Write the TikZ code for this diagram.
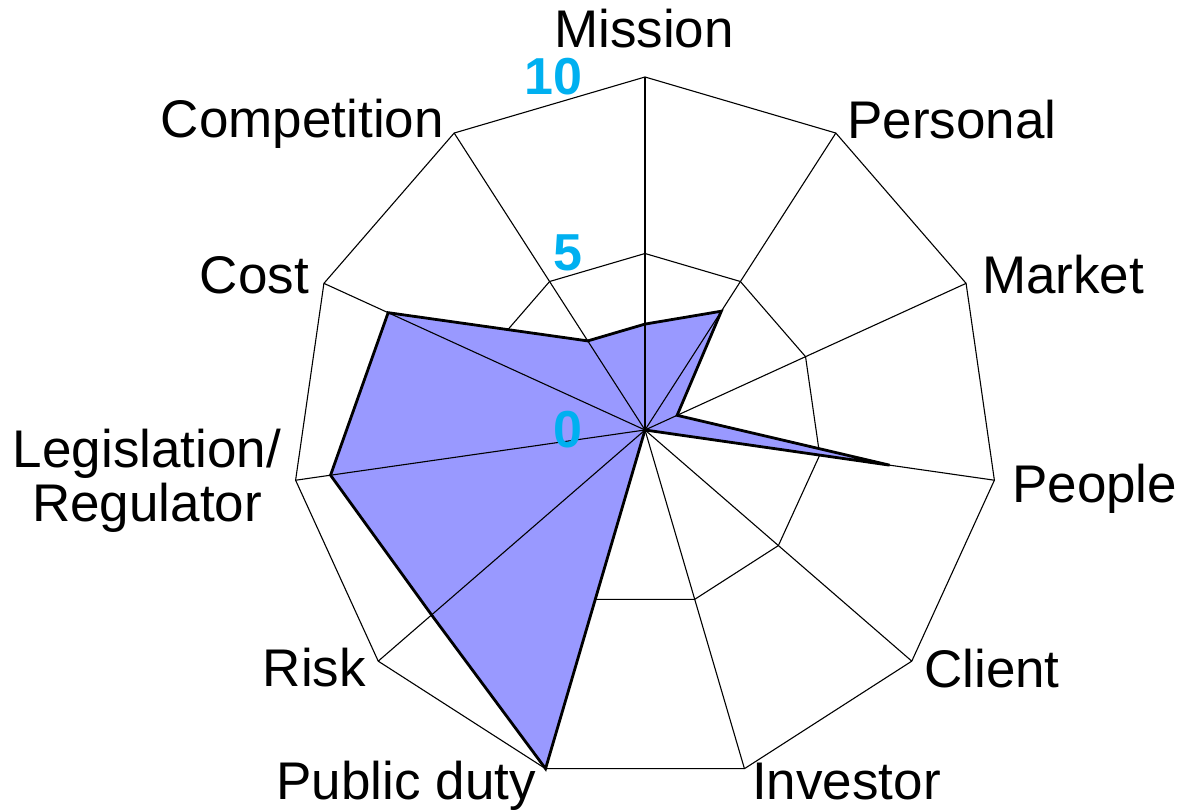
\documentclass[tikz,border=0pt]{standalone}
\usepackage{fontspec}
\setmainfont{Liberation Sans}
\definecolor{scaleblue}{HTML}{00B0F0}
\definecolor{areafill}{HTML}{9999FF}
\tikzset{
  grid/.style={draw=black, line width=1.1pt, line join=miter},
  dataline/.style={draw=black, line width=2.8pt, line join=miter},
  axlabel/.style={inner sep=0pt, font=\fontsize{53}{54}\selectfont},
  scalelabel/.style={inner sep=0pt, text=scaleblue, font=\fontsize{52}{53}\selectfont\bfseries, anchor=base east}
}
\begin{document}
\begin{tikzpicture}[x=1pt,y=1pt]
\useasboundingbox (0,0) rectangle (1179,811);
\def\R{353}
\begin{scope}[shift={(645,381)}]
  % grid polygons
  \draw[grid] (90:\R pt) \foreach \i in {1,...,10} { -- ({90-\i*360/11}:\R pt) } -- cycle;
  \draw[grid] (90:\R/2 pt) \foreach \i in {1,...,10} { -- ({90-\i*360/11}:\R/2 pt) } -- cycle;
  % data area fill
  \fill[areafill] (90:3*\R/10 pt)
    \foreach \i/\v in {1/4,2/1,3/7,4/0,5/0,6/10,7/8,8/9,9/8,10/3} {
      -- ({90-\i*360/11}:\v*\R/10 pt)
    } -- cycle;
  % spokes
  \foreach \i in {0,...,10} {
    \draw[grid] (0,0) coordinate (c) -- ({90-\i*360/11}:\R pt) coordinate (v\i);
  }
  % data outline
  \draw[dataline] (90:3*\R/10 pt)
    \foreach \i/\v in {1/4,2/1,3/7,4/0,5/0,6/10,7/8,8/9,9/8,10/3} {
      -- ({90-\i*360/11}:\v*\R/10 pt)
    } -- cycle;
\end{scope}
% axis labels
\node[axlabel, anchor=base] (mission) at (644,763) {Mission};
\node[axlabel, anchor=base west] (personal) at (847,672) {Personal};
\node[axlabel, anchor=base west] (market) at (982,517) {Market};
\node[axlabel, anchor=base west] (people) at (1012,308) {People};
\node[axlabel, anchor=base west] (client) at (924,123) {Client};
\node[axlabel, anchor=base west] (investor) at (752,11) {Investor};
\node[axlabel, anchor=base east] (public) at (536,11) {Public duty};
\node[axlabel, anchor=base east] (risk) at (366,124) {Risk};
\node[axlabel, anchor=base, align=center] (legis) at (147,289) {Legislation/\\[0pt]Regulator};
\node[axlabel, anchor=base east] (cost) at (309,517) {Cost};
\node[axlabel, anchor=base east] (competition) at (444,673) {Competition};
% scale labels
\node[scalelabel] (s10) at (583,716) {10};
\node[scalelabel] (s5) at (583,540) {5};
\node[scalelabel] (s0) at (583,363) {0};
\end{tikzpicture}
\end{document}
